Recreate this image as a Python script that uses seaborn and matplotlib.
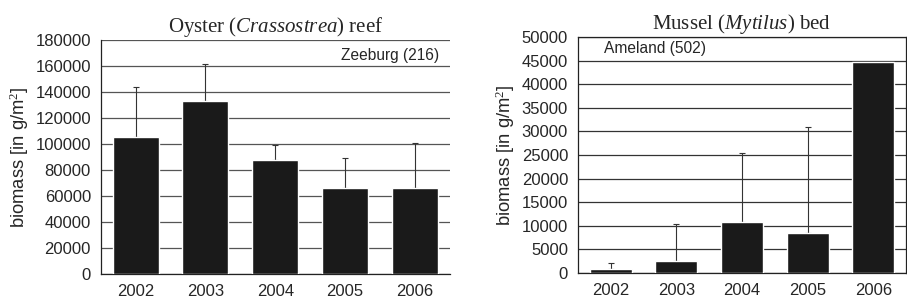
import numpy as np
import pandas as pd
import matplotlib
matplotlib.use("Agg")
import matplotlib.pyplot as plt
import seaborn as sns

# data
years = ["2002", "2003", "2004", "2005", "2006"]
oyster_mean = [105000, 133000, 88000, 66000, 66000]
oyster_upper = [143500, 161500, 99500, 89500, 101000]
mussel_mean = [800, 2600, 10800, 8500, 44700]
mussel_upper = [2100, 10400, 25500, 31000, 44700]

sns.set_style("white")
plt.rcParams["font.family"] = ["Liberation Sans", "DejaVu Sans"]
plt.rcParams["mathtext.fontset"] = "custom"
plt.rcParams["mathtext.it"] = "Liberation Serif:italic"
plt.rcParams["mathtext.rm"] = "Liberation Serif"

fig = plt.figure(figsize=(9.07, 3.03), dpi=100)
ax1 = fig.add_axes([0.111, 0.096, 0.385, 0.772])
ax2 = fig.add_axes([0.637, 0.099, 0.362, 0.779])


def draw(ax, means, upper, ymax, step, grid_col, width):
    df = pd.DataFrame({"year": years, "biomass": means})
    sns.barplot(data=df, x="year", y="biomass", color="#1a1a1a",
                saturation=1, width=width, errorbar=None, ax=ax, zorder=3)
    err = np.array(upper) - np.array(means)
    ax.errorbar(np.arange(len(years)), means,
                yerr=[np.zeros(len(years)), err], fmt="none",
                ecolor="#333333", elinewidth=0.8, capsize=2.5,
                capthick=0.8, zorder=2)
    ax.set_ylim(0, ymax)
    ax.set_xlim(-0.5, len(years) - 0.5)
    ax.set_yticks(np.arange(0, ymax + 1, step))
    ax.yaxis.grid(True, color=grid_col, lw=0.9)
    ax.set_axisbelow(True)
    ax.set_xlabel("")
    ax.set_ylabel("biomass [in g/m$^2$]", fontsize=13.2, labelpad=3)
    ax.set_xticks(np.arange(-0.5, len(years), 1), minor=False)
    ax.set_xticks(np.arange(len(years)), minor=True)
    ax.set_xticklabels([])
    ax.set_xticklabels(years, minor=True)
    ax.tick_params(axis="x", which="major", direction="out", length=5,
                   width=0.8, color="#222222")
    ax.tick_params(axis="x", which="minor", length=0, labelsize=12, pad=7)
    ax.tick_params(axis="y", direction="out", length=4, width=0.8,
                   color="#222222", labelsize=12, pad=3)
    for s in ax.spines.values():
        s.set_color("#222222")
        s.set_linewidth(0.9)


draw(ax1, oyster_mean, oyster_upper, 180000, 20000, "#555555", 0.66)
draw(ax2, mussel_mean, mussel_upper, 50000, 5000, "#333333", 0.64)

ax1.spines["top"].set_visible(False)
ax1.spines["right"].set_visible(False)

ax1.set_title("Oyster ($\\it{Crassostrea}$) reef", fontsize=15,
              family="Liberation Serif", pad=6)
ax2.set_title("Mussel $\\it{(Mytilus)}$ bed", fontsize=15,
              family="Liberation Serif", pad=6)

ax1.text(0.97, 0.935, "Zeeburg (216)", transform=ax1.transAxes,
         ha="right", va="center", fontsize=11.2)
ax2.text(0.08, 0.95, "Ameland (502)", transform=ax2.transAxes,
         ha="left", va="center", fontsize=11.2)

fig.savefig("out.png", dpi=100)
